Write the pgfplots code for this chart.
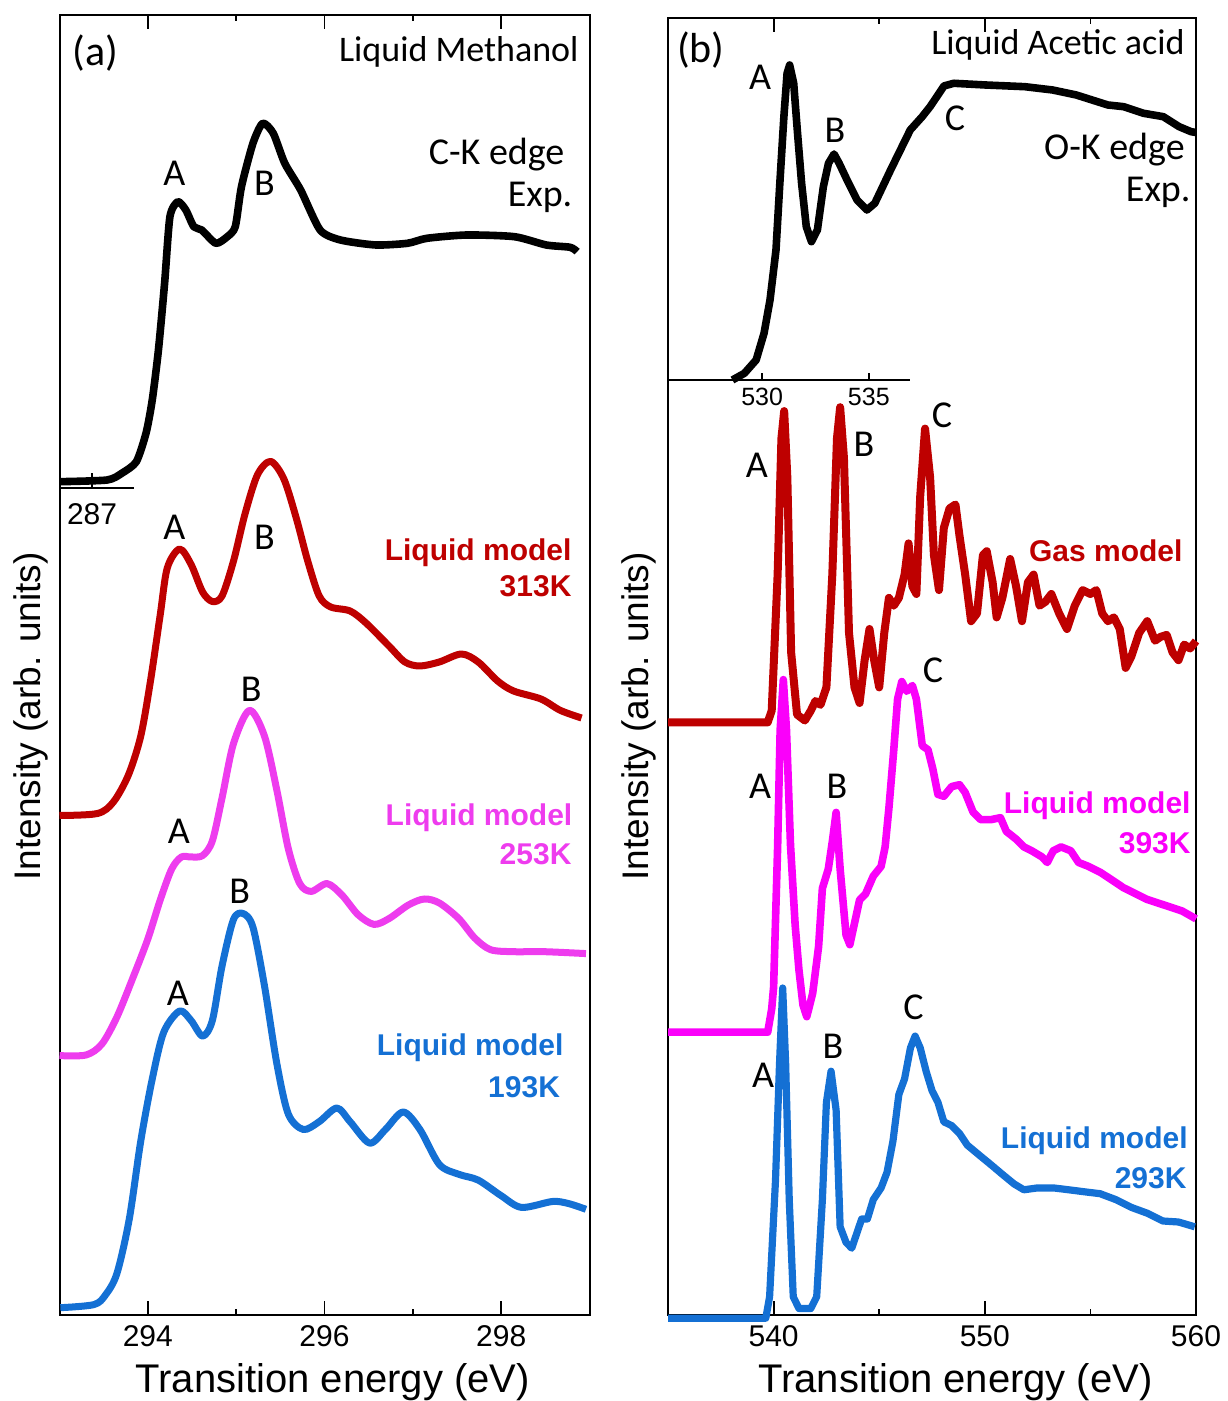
\documentclass[border=0pt]{standalone}
\usepackage{fontspec}
\setmainfont{Liberation Sans}
\newfontfamily\cali{Carlito}
\usepackage{pgfplots}
\pgfplotsset{compat=1.18}
\definecolor{dred}{RGB}{190,0,0}
\definecolor{magA}{RGB}{238,60,238}
\definecolor{magB}{RGB}{250,0,250}
\definecolor{blu}{RGB}{20,112,212}
\pgfplotsset{
  mainax/.style={
    scale only axis, clip=false, anchor=south west,
    axis line style={line width=1pt},
    ytick=\empty,
    tick style={line width=0.9pt, black},
    major tick length=6.8pt, minor tick length=3pt,
    tick align=inside, xtick pos=both,
    xticklabel style={font=\fontsize{15}{15}\selectfont, yshift=-1.6pt},
    /pgf/number format/assume math mode=true,
  },
  stub/.style={
    scale only axis, clip=false, anchor=south west,
    axis x line=bottom, axis line style={-, line width=1pt}, hide y axis,
    tick align=inside, tick style={line width=0.9pt, black},
    /pgf/number format/assume math mode=true,
  },
}
\tikzset{
  lab/.style={font=\cali\fontsize{19}{19}\selectfont, inner sep=0pt},
  plab/.style={font=\cali\fontsize{21}{21}\selectfont, inner sep=0pt},
  mlab/.style={font=\bfseries\fontsize{15}{15}\selectfont, inner sep=0pt, anchor=east},
}
\begin{document}
\begin{tikzpicture}
\useasboundingbox (-29.75pt,-43pt) rectangle (583.75pt,657.5pt);
% ---------------- panel (a)
\begin{axis}[mainax, at={(0pt,0pt)}, width=265pt, height=650pt,
  xmin=293, xmax=299, ymin=0, ymax=1300,
  xtick={294,296,298}, minor xtick={295,297},
  xlabel={Transition energy (eV)}, ylabel={Intensity (arb. units)},
  xlabel style={font=\fontsize{20}{20}\selectfont, at={(axis description cs:0.5155,-0.0515)}, anchor=center},
  ylabel style={font=\fontsize{18.5}{18.5}\selectfont, at={(axis description cs:-0.0538,0.4604)}, anchor=center}]
\addplot[black, line width=3.8pt, smooth, tension=0.4, line join=round] coordinates {
(293.00,833.3)(293.54,835)(293.71,842)(293.87,853.3)(293.98,882)(294.05,915)(294.12,965)(294.19,1032)
(294.25,1098.3)(294.34,1113.3)(294.43,1105)(294.52,1088.3)(294.61,1085)(294.77,1071.7)(294.90,1078.3)
(294.99,1088.3)(295.06,1128.3)(295.19,1171.7)(295.30,1191.7)(295.42,1181.7)(295.55,1151.7)(295.73,1125)
(295.95,1085)(296.18,1075)(296.58,1070)(296.94,1071.7)(297.16,1076.7)(297.61,1080)(298.15,1078.3)
(298.51,1070)(298.78,1067.7)(298.86,1063.3)};
\addplot[dred, line width=3.5pt, smooth, line join=round] coordinates {
(293.00,499.5)(293.43,501.5)(293.61,513)(293.78,540)(293.92,579)(294.03,634)(294.14,700)(294.22,747)
(294.36,766)(294.49,750.5)(294.62,723)(294.73,713.5)(294.84,719)(294.97,754)(295.10,801)(295.24,840)
(295.39,853.6)(295.54,836)(295.68,797)(295.81,754)(295.94,719)(296.07,708)(296.29,704)(296.47,692)
(296.73,669)(296.91,653)(297.08,649)(297.30,653)(297.55,661)(297.74,653)(297.96,634)(298.14,624)
(298.45,616)(298.67,604.6)(298.91,597)};
\addplot[magA, line width=3.5pt, smooth, line join=round] coordinates {
(293.00,259.4)(293.30,260)(293.48,271)(293.65,298)(293.83,337)(294.00,376)(294.14,415)(294.27,446)
(294.38,458)(294.49,458)(294.62,459.4)(294.73,474)(294.84,517)(294.97,571.5)(295.15,604.6)(295.32,579)
(295.46,525)(295.59,466.4)(295.72,431.4)(295.85,423.6)(296.03,431.4)(296.20,419.7)(296.38,400.3)
(296.56,390.6)(296.73,396.4)(296.95,410)(297.13,416)(297.30,412)(297.52,396.4)(297.70,377)(297.88,365.3)
(298.14,363.3)(298.49,363.3)(298.96,361.4)};
\addplot[blu, line width=3.5pt, smooth, line join=round] coordinates {
(293.01,7.3)(293.39,10.4)(293.52,20)(293.65,41.5)(293.79,96)(293.92,174)(294.05,236)(294.18,282.8)
(294.36,304)(294.49,294.4)(294.62,278.9)(294.73,294.4)(294.84,349)(294.97,395.6)(295.08,401.4)
(295.19,387.8)(295.32,329.4)(295.46,251.6)(295.59,201)(295.76,185.5)(295.94,193.3)(296.14,207)
(296.29,193.3)(296.51,171.9)(296.69,185.5)(296.89,203)(297.08,185.5)(297.30,150.5)(297.52,140.7)
(297.74,134.9)(298.0,119.3)(298.23,107.6)(298.58,113.5)(298.76,111.5)(298.96,105.7)};
\node[plab] at (axis cs:293.41,1262) {(a)};
\node[lab, anchor=east, font=\cali\fontsize{18}{18}\selectfont] at (axis cs:298.88,1263) {Liquid Methanol};
\node[lab, anchor=east] at (axis cs:298.72,1160) {C-K edge};
\node[lab, anchor=east] at (axis cs:298.81,1118) {Exp.};
\node[lab] at (axis cs:294.30,1142) {A};
\node[lab] at (axis cs:295.32,1132) {B};
\node[lab] at (axis cs:294.30,787.5) {A};
\node[lab] at (axis cs:295.32,777.7) {B};
\node[mlab, dred] at (axis cs:298.80,762.2) {Liquid model};
\node[mlab, dred] at (axis cs:298.80,729) {313K};
\node[lab] at (axis cs:295.17,626) {B};
\node[lab] at (axis cs:294.35,484) {A};
\node[mlab, magA] at (axis cs:298.81,497.6) {Liquid model};
\node[mlab, magA] at (axis cs:298.80,460.6) {253K};
\node[lab] at (axis cs:295.04,423.6) {B};
\node[lab] at (axis cs:294.34,321.7) {A};
\node[mlab, blu] at (axis cs:298.71,267.2) {Liquid model};
\node[mlab, blu] at (axis cs:298.67,228.3) {193K};
\end{axis}
% stub axis of the experimental C-K inset
\begin{axis}[stub, at={(0pt,413.5pt)}, width=37.25pt, height=20pt,
  xmin=286, xmax=288.29, ymin=0, ymax=1, xtick={287}, major tick length=7.5pt,
  xticklabel style={font=\fontsize{15}{15}\selectfont, yshift=-4pt}]
\addplot[draw=none] coordinates {(286,0)};
\end{axis}
% ---------------- panel (b)
\begin{axis}[mainax, at={(304.25pt,0pt)}, width=264pt, height=648.5pt,
  xmin=535, xmax=560, ymin=0, ymax=1297,
  xtick={540,550,560}, minor xtick={545,555},
  xlabel={Transition energy (eV)}, ylabel={Intensity (arb. units)},
  xlabel style={font=\fontsize{20}{20}\selectfont, at={(axis description cs:0.5445,-0.0517)}, anchor=center},
  ylabel style={font=\fontsize{18.5}{18.5}\selectfont, at={(axis description cs:-0.056,0.4615)}, anchor=center}]
\addplot[dred, line width=4pt, line join=round] coordinates {
(535,592.6)(539.72,592.6)(539.91,604.3)(540.19,740.4)(540.37,876.6)(540.50,903.9)(540.65,837.7)
(540.83,662.6)(541.11,600.4)(541.48,594.5)(541.76,604.3)(541.98,614)(542.22,610.1)(542.50,627.6)
(542.78,740.4)(543.00,876.6)(543.15,907.8)(543.33,857.2)(543.57,682.1)(543.83,627.6)(544.07,612)
(544.31,654.8)(544.54,686)(544.76,654.8)(545.00,627.6)(545.24,682.1)(545.46,717.1)(545.69,709.3)
(545.93,717.1)(546.20,740.4)(546.39,771.6)(546.57,728.8)(546.76,721)(546.94,818.3)(547.17,886.4)
(547.41,837.7)(547.59,759.9)(547.83,724.9)(548.06,787.1)(548.33,806.6)(548.61,810.5)(548.80,779.4)
(549.07,740.4)(549.35,693.8)(549.63,701.5)(549.91,759.9)(550.09,763.8)(550.37,732.7)(550.56,697.6)
(550.83,717.1)(551.20,756)(551.48,728.8)(551.76,693.8)(552.04,732.7)(552.31,740.4)(552.59,709.3)
(552.87,713.2)(553.15,721)(553.52,701.5)(553.89,686)(554.26,709.3)(554.63,724.9)(555.00,721)
(555.28,724.9)(555.56,701.5)(555.83,693.8)(556.11,697.6)(556.39,686)(556.67,647.1)(556.94,658.7)
(557.31,682.1)(557.69,693.8)(558.06,674.3)(558.33,678.2)(558.61,680.1)(558.89,662.6)(559.17,654.8)
(559.44,670.4)(559.72,666.5)(560.0,674)};
\addplot[magB, line width=3.8pt, line join=round] coordinates {
(535,282.8)(539.72,282.8)(539.91,306.1)(540.0,328)(540.19,468)(540.31,585)(540.46,635.4)(540.61,585)
(540.80,470)(541.02,390)(541.20,345)(541.39,310)(541.57,298.3)(541.85,321.7)(542.13,368.4)
(542.31,426.7)(542.59,446)(542.78,473.4)(542.96,502.6)(543.15,446)(543.43,380)(543.61,370.3)
(543.83,391.7)(544.07,415)(544.35,420.9)(544.72,438.9)(545.09,448.6)(545.28,468)(545.46,507)
(545.69,565.3)(545.87,615.9)(546.07,633.4)(546.30,623.7)(546.57,629.5)(546.76,615.9)(547.04,569.2)
(547.31,565.3)(547.54,545.9)(547.78,520.6)(548.06,518.7)(548.43,528.4)(548.80,530.3)(549.07,522.5)
(549.44,503.1)(549.81,495.3)(550.28,495.3)(550.74,497.3)(551.02,483.6)(551.48,475.9)(551.85,468.1)
(552.22,464.2)(552.69,458.3)(552.96,452.5)(553.24,464.2)(553.61,468.1)(554.07,464.2)(554.44,452.5)
(554.91,448.6)(555.46,442.8)(556.02,435)(556.57,427.2)(557.13,421.4)(557.69,415.5)(558.24,411.7)
(558.80,407.8)(559.35,403.9)(560.0,396.1)};
\addplot[blu, line width=3.6pt, line join=round] coordinates {
(535,-3.2)(539.63,-3.2)(539.81,18.2)(540.09,134.9)(540.28,251.6)(540.43,327)(540.57,251.6)(540.74,115.4)
(540.93,18.2)(541.20,6.5)(541.76,6.5)(542.04,18.2)(542.31,115.4)(542.50,212.7)(542.72,243.8)
(542.96,204.9)(543.15,88.2)(543.43,72.6)(543.70,66.8)(543.98,84.3)(544.17,96)(544.44,96)(544.72,115.4)
(545.09,127.1)(545.37,142.7)(545.65,173.8)(545.93,220.5)(546.20,236.1)(546.48,267.2)(546.70,278.9)
(546.94,267.2)(547.22,243.8)(547.50,224.4)(547.78,212.7)(548.06,193.2)(548.43,189.4)(548.80,181.6)
(549.17,169.9)(549.72,160.2)(550.28,150.5)(550.83,140.7)(551.39,131)(551.85,125.2)(552.50,127.1)
(553.24,127.1)(553.98,125.2)(554.72,123.2)(555.46,121.3)(556.20,115.4)(556.94,107.6)(557.69,101.8)
(558.43,94)(559.17,93)(559.94,88.2)};
\node[plab] at (axis cs:536.56,1265) {(b)};
\node[lab, anchor=east, font=\cali\fontsize{18}{18}\selectfont] at (axis cs:559.48,1270) {Liquid Acetic acid};
\node[lab] at (axis cs:539.36,1238) {A};
\node[lab] at (axis cs:542.91,1185) {B};
\node[lab] at (axis cs:548.59,1197) {C};
\node[lab, anchor=east] at (axis cs:559.48,1165) {O-K edge};
\node[lab, anchor=east] at (axis cs:559.76,1123) {Exp.};
\node[lab] at (axis cs:539.21,849.4) {A};
\node[lab] at (axis cs:544.28,871) {B};
\node[lab] at (axis cs:547.97,900) {C};
\node[mlab, dred] at (axis cs:559.38,764) {Gas model};
\node[lab] at (axis cs:547.55,645) {C};
\node[lab] at (axis cs:539.36,528.4) {A};
\node[lab] at (axis cs:543.0,528.4) {B};
\node[mlab, magB] at (axis cs:559.76,509) {Liquid model};
\node[mlab, magB] at (axis cs:559.76,472) {393K};
\node[lab] at (axis cs:546.62,308) {C};
\node[lab] at (axis cs:542.81,269) {B};
\node[lab] at (axis cs:539.5,240) {A};
\node[mlab, blu] at (axis cs:559.62,174) {Liquid model};
\node[mlab, blu] at (axis cs:559.57,137) {293K};
\end{axis}
% inset of the experimental O-K edge
\begin{axis}[stub, at={(304.25pt,467.5pt)}, width=121pt, height=181pt,
  xmin=525.59, xmax=536.93, ymin=0, ymax=362, xtick={530,535}, major tick length=3.6pt,
  xticklabel style={font=\fontsize{12.5}{12.5}\selectfont, yshift=-0.5pt}]
\addplot[black, line width=3.8pt, line join=round] coordinates {
(528.61,0)(529.17,6.7)(529.72,20)(530.09,46.7)(530.37,80)(530.65,130)(530.83,196.7)(531.02,263.3)
(531.17,306.7)(531.29,315)(531.48,296.7)(531.66,246.7)(531.85,196.7)(532.07,153.3)(532.31,138.3)
(532.59,150)(532.87,193.3)(533.11,216.7)(533.37,226)(533.61,216.7)(533.98,200)(534.45,180)(534.91,170)
(535.28,176.7)(535.65,193.3)(536.02,210)(536.48,230)(536.94,250)(537.50,263.3)(537.87,273.3)
(538.24,285)(538.52,294)(538.98,296.7)(540.46,295)(542.31,293.3)(543.61,290)(544.72,285)(545.46,280)
(546.20,275)(546.94,273.3)(547.87,266.7)(548.80,263.3)(549.54,253.3)(550.10,248.3)(550.33,247.5)};
\end{axis}
\end{tikzpicture}
\end{document}
